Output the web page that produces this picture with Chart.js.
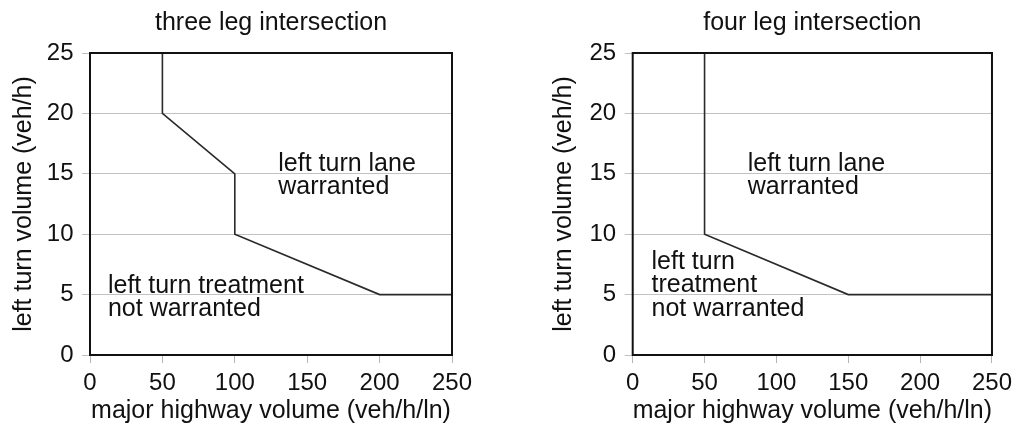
<!DOCTYPE html>
<html><head><meta charset="utf-8">
<script src="https://cdn.jsdelivr.net/npm/chart.js@4/dist/chart.umd.min.js"></script>
<style>
html,body{margin:0;padding:0;background:#fff;}
#wrap{position:relative;width:1018px;height:428px;overflow:hidden;}
canvas{position:absolute;top:0;}
</style></head><body>
<div id="wrap">
<canvas id="c1" width="509" height="428" style="left:0"></canvas>
<canvas id="c2" width="509" height="428" style="left:509px"></canvas>
</div>
<script>
// ---- data ----
const xTicks = [0, 50, 100, 150, 200, 250];
const yTicks = [0, 5, 10, 15, 20, 25];
const threeLegX = [50, 50, 100, 100, 200, 250];
const threeLegY = [25, 20, 15, 10, 5, 5];
const fourLegX = [50, 50, 150, 250];
const fourLegY = [25, 10, 5, 5];
const chartTitles = ["three leg intersection", "four leg intersection"];
const xTitle = "major highway volume (veh/h/ln)";
const yTitle = "left turn volume (veh/h)";
const threeLegNotes = [
  {lines: ["left turn lane", "warranted"], x: 130, y: 15.27},
  {lines: ["left turn treatment", "not warranted"], x: 12.4, y: 5.16}
];
const fourLegNotes = [
  {lines: ["left turn lane", "warranted"], x: 80, y: 15.27},
  {lines: ["left turn", "treatment", "not warranted"], x: 13.1, y: 7.12}
];

const FONT = '"Liberation Sans", Arial, Helvetica, sans-serif';
const INK = '#111';

const framePlugin = {
  id: 'frame',
  afterDatasetsDraw(chart, args, opts) {
    const {ctx, chartArea: {left, top, right, bottom}} = chart;
    ctx.save();
    ctx.strokeStyle = INK;
    ctx.lineWidth = 2;
    ctx.strokeRect(left, top, right - left, bottom - top);
    ctx.fillStyle = INK;
    ctx.font = '25px ' + FONT;
    ctx.textAlign = 'left';
    ctx.textBaseline = 'alphabetic';
    (opts.notes || []).forEach(n => {
      const px = chart.scales.x.getPixelForValue(n.x);
      const py = chart.scales.y.getPixelForValue(n.y);
      n.lines.forEach((t, i) => ctx.fillText(t, px, py + i * 23.5));
    });
    ctx.restore();
  }
};

function makeChart(id, title, xs, ys, notes, yWidth, yTitlePad) {
  const pts = xs.map((x, i) => ({x: x, y: ys[i]}));
  return new Chart(document.getElementById(id), {
    type: 'scatter',
    data: {datasets: [{
      data: pts, showLine: true, borderColor: '#2a2a2a', borderWidth: 1.6,
      pointRadius: 0, pointHoverRadius: 0, fill: false, tension: 0
    }]},
    plugins: [framePlugin],
    options: {
      responsive: false, animation: false, devicePixelRatio: 1,
      layout: {padding: {left: 0, right: 509 - yWidth - 362, top: 0, bottom: 0}},
      plugins: {
        legend: {display: false}, tooltip: {enabled: false},
        title: {display: true, text: title, color: INK, fullSize: false,
          font: {family: FONT, size: 25, weight: 'normal', lineHeight: 1.2},
          padding: {top: 8, bottom: 15}},
        frame: {notes: notes}
      },
      scales: {
        x: {
          type: 'linear', min: 0, max: 250,
          afterBuildTicks: s => { s.ticks = xTicks.map(v => ({value: v})); },
          afterFit: s => { s.height = 73; },
          grid: {drawOnChartArea: false, drawTicks: true, tickLength: 8, color: '#b5b5b5', lineWidth: 1},
          border: {display: false},
          ticks: {color: INK, padding: 6, maxRotation: 0, font: {family: FONT, size: 24}},
          title: {display: true, text: xTitle, color: INK, padding: {top: 0, bottom: 2},
            font: {family: FONT, size: 25, lineHeight: 1.2}}
        },
        y: {
          type: 'linear', min: 0, max: 25,
          afterBuildTicks: s => { s.ticks = yTicks.map(v => ({value: v})); },
          afterFit: s => { s.width = yWidth; },
          grid: {drawOnChartArea: true, drawTicks: true, tickLength: 8, color: '#c2c2c2', lineWidth: 1},
          border: {display: false},
          ticks: {color: INK, padding: 8.5, font: {family: FONT, size: 24}},
          title: {display: true, text: yTitle, color: INK, padding: {top: yTitlePad, bottom: 0},
            font: {family: FONT, size: 25, lineHeight: 1.2}}
        }
      }
    }
  });
}

makeChart('c1', chartTitles[0], threeLegX, threeLegY, threeLegNotes, 90, 9.3);
makeChart('c2', chartTitles[1], fourLegX, fourLegY, fourLegNotes, 123.7, 40.3);
</script>
</body></html>
